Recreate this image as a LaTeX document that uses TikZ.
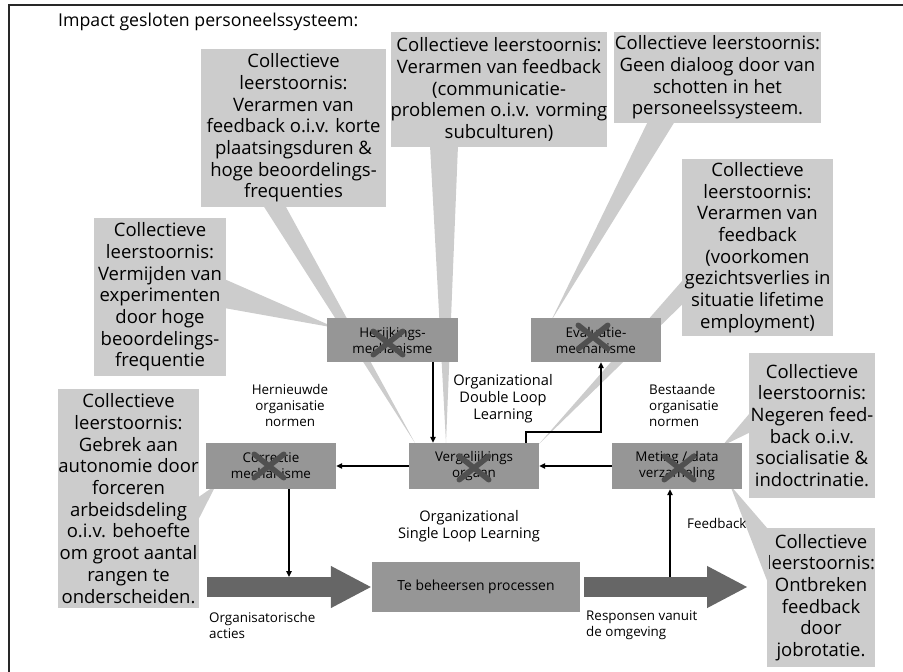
\documentclass[tikz,border=0pt]{standalone}
\usepackage{fontspec}
\setmainfont{Open Sans}
\usetikzlibrary{arrows.meta,shapes.misc,calc}
\definecolor{calloutgray}{RGB}{204,204,204}
\definecolor{boxgray}{RGB}{150,150,150}
\definecolor{flowgray}{RGB}{102,102,102}
\definecolor{crossgray}{RGB}{80,80,80}
\definecolor{framegray}{RGB}{40,40,40}

\begin{document}
\begin{tikzpicture}[x=1pt,y=-1pt,
  callout/.style={fill=calloutgray, inner sep=0pt, align=center,
    font=\fontsize{18.5}{21.7}\selectfont, text=black},
  tail/.style={fill=calloutgray},
  stage/.style={fill=boxgray, inner sep=0pt, minimum width=130pt,
    minimum height=45pt, align=center,
    font=\fontsize{13.4}{16}\selectfont, text=black},
  xmark/.style={cross out, draw=crossgray, line width=5.5pt, line cap=round,
    minimum width=24pt, minimum height=18pt, inner sep=0pt},
  arr/.style={draw=black, line width=1.4pt, -{Triangle[length=6pt,width=5.5pt]}},
  flow/.style={draw=flowgray, line width=20pt, -{Triangle[length=41pt,width=39pt]}},
  lbl/.style={inner sep=0pt, font=\fontsize{13.4}{16}\selectfont, text=black},
  biglbl/.style={inner sep=0pt, font=\fontsize{14.6}{17}\selectfont, text=black}
]
\useasboundingbox (0,0) rectangle (903,672);

% frame and title
\draw[framegray, line width=1.2pt] (9,672) -- (9,5) -- (903,5);
\node[anchor=west, inner sep=0pt, font=\fontsize{17.7}{20}\selectfont] (title)
  at (58,22) {Impact gesloten personeelssysteem:};

% callout boxes
\node[callout, minimum width=132pt, minimum height=158pt] (c1) at (160,297)
  {Collectieve\\leerstoornis:\\Vermijden van\\experimenten\\door hoge\\beoordelings-\\frequentie};
\node[callout, minimum width=185pt, minimum height=158pt] (c2) at (293.5,128)
  {Collectieve\\leerstoornis:\\Verarmen van\\feedback o.i.v. korte\\plaatsingsduren \&\\hoge beoordelings-\\frequenties};
\node[callout, minimum width=216pt, minimum height=115pt] (c3) at (499,89.5)
  {Collectieve leerstoornis:\\Verarmen van feedback\\(communicatie-\\problemen o.i.v. vorming\\subculturen)};
\node[callout, minimum width=207pt, minimum height=91pt] (c4) at (717.5,77.5)
  {Collectieve leerstoornis:\\Geen dialoog door van\\schotten in het\\personeelssysteem.};
\node[callout, minimum width=151pt, minimum height=177pt] (c5) at (757.5,247.5)
  {Collectieve\\leerstoornis:\\Verarmen van\\feedback\\(voorkomen\\gezichtsverlies in\\situatie lifetime\\employment)};
\node[callout, minimum width=126pt, minimum height=145pt] (c6) at (812,425.5)
  {Collectieve\\leerstoornis:\\Negeren feed-\\back o.i.v.\\socialisatie \&\\indoctrinatie.};
\node[callout, minimum width=108pt, minimum height=139pt] (c7) at (821,597.5)
  {Collectieve\\leerstoornis:\\Ontbreken\\feedback\\door\\jobrotatie.};
\node[callout, minimum width=141pt, minimum height=219pt] (c8) at (128.5,498.5)
  {Collectieve\\leerstoornis:\\Gebrek aan\\autonomie door\\forceren\\arbeidsdeling\\o.i.v. behoefte\\om groot aantal\\rangen te\\onderscheiden.};

% callout pointers
\coordinate (t1) at (336,328);
\coordinate (t2) at (415,443);
\coordinate (t3) at (446,443);
\coordinate (t4) at (551,321);
\coordinate (t5) at (539,444);
\coordinate (t6) at (722,446);
\coordinate (t7) at (730,485);
\coordinate (t8) at (216,485);
\fill[tail] ($(c1.east)+(-2,-18)$) -- (t1) -- ($(c1.east)+(-2,11)$) -- cycle;
\fill[tail] ($(c2.south)+(-30.5,-2)$) -- (t2) -- ($(c2.south)+(-8.5,-2)$) -- cycle;
\fill[tail] ($(c3.south)+(-69,-2)$) -- (t3) -- ($(c3.south)+(-41,-2)$) -- cycle;
\fill[tail] ($(c4.south)+(-69.5,-2)$) -- (t4) -- ($(c4.south)+(-42.5,-2)$) -- cycle;
\fill[tail] ($(c5.west)+(2,31.5)$) -- (t5) -- ($(c5.west)+(2,55.5)$) -- cycle;
\fill[tail] ($(c6.west)+(2,-13.5)$) -- (t6) -- ($(c6.west)+(2,6.5)$) -- cycle;
\fill[tail] ($(c7.west)+(2,-67.5)$) -- (t7) -- ($(c7.west)+(2,-12.5)$) -- cycle;
\fill[tail] ($(c8.east)+(-2,-0.5)$) -- (t8) -- ($(c8.east)+(-2,23.5)$) -- cycle;

% control loop stages
\node[stage, minimum width=131pt, minimum height=44pt] (her) at (392.5,340) {Herijkings-\\mechanisme};
\node[stage, minimum height=44pt] (eva) at (596,340) {Evaluatie-\\mechanisme};
\node[stage, minimum height=46pt] (cor) at (271,466) {Correctie\\mechanisme};
\node[stage, minimum height=46pt] (ver) at (474,466) {Vergelijkings\\orgaan};
\node[stage, minimum height=46pt] (met) at (677,466) {Meting / data\\verzameling};
\node[stage, minimum width=208pt, minimum height=50pt,
  font=\fontsize{13.9}{16}\selectfont] (proc) at (476,587) {Te beheersen processen};

% broad flows in and out of the process
\coordinate (actStart) at (207,587);
\coordinate (respEnd) at (748,587);
\draw[flow] (actStart) -- (proc.west);
\draw[flow] ([xshift=4pt]proc.east) -- (respEnd);

% thin connectors
\coordinate (actTop) at (289,577);
\coordinate (respTop) at (670,577);
\draw[arr] ([xshift=40.5pt]her.south) -- ([xshift=-41pt]ver.north);
\draw[arr] (ver.west) -- (cor.east);
\draw[arr] (met.west) -- (ver.east);
\draw[arr] ([xshift=52pt]ver.north) -- ++(0,-11) -| ([xshift=5pt]eva.south);
\draw[arr] ([xshift=18pt]cor.south) -- (actTop);
\draw[arr] (respTop) -- ([xshift=-7pt]met.south);

% crossed-out mechanisms
\node[xmark] at ($(her.center)+(-4.5,3)$) {};
\node[xmark] at ($(ver.center)+(0,2)$) {};
\node[xmark] at ($(eva.center)+(-3,-3)$) {};
\node[xmark] at ($(cor.center)+(-2,0)$) {};
\node[xmark] at ($(met.center)+(2,2)$) {};

% loop labels
\node[lbl, align=center] (hern) at (290,405) {Hernieuwde\\organisatie\\normen};
\node[biglbl, align=center] (dll) at (503,399) {Organizational\\Double Loop\\Learning};
\node[lbl, align=left, anchor=west] (best) at (649,405) {Bestaande\\organisatie\\normen};
\node[biglbl, align=center] (sll) at (469,526.5) {Organizational\\Single Loop Learning};
\node[lbl, anchor=west] (fb) at (687,523) {Feedback};
\node[lbl, align=left, anchor=west] (acts) at (209,625.5) {Organisatorische\\acties};
\node[lbl, align=left, anchor=west] (resp) at (586,625.5) {Responsen vanuit\\de omgeving};
\end{tikzpicture}
\end{document}
